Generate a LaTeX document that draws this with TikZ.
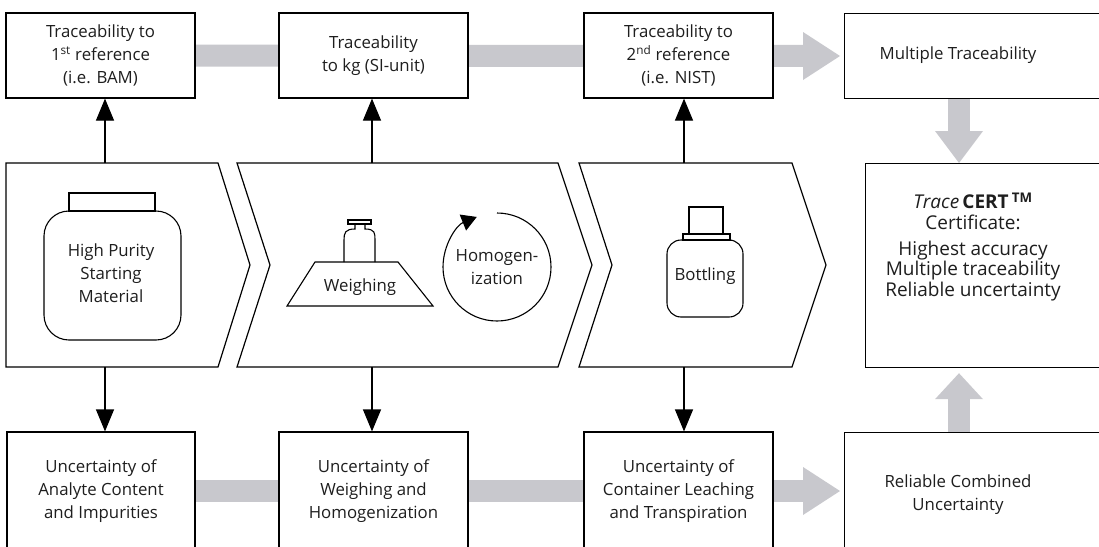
\documentclass[tikz,border=0pt]{standalone}
\usepackage{fontspec}
\setmainfont{Open Sans}
\usetikzlibrary{arrows.meta,calc,backgrounds}
\definecolor{gry}{RGB}{200,200,205}
\definecolor{txt}{RGB}{30,30,30}
\tikzset{
 box/.style={draw=black, line width=1.2pt, fill=white, inner sep=0pt, align=center, text=txt, font=\fontsize{16.8}{22.8}\selectfont},
 lbl/.style={inner sep=0pt, align=center, text=txt, font=\fontsize{16.8}{22.8}\selectfont},
 frame/.style={draw=black, line width=1.2pt, fill=white, inner sep=0pt, anchor=north west},
 blk/.style={line width=1.2pt, -{Triangle[length=22pt,width=18pt]}},
 gband/.style={draw=gry, line width=22pt},
 ghead/.style={fill=gry},
 chev/.style={draw=black, line width=1.2pt, fill=white, line join=miter},
 icon/.style={draw=black, line width=1.1pt},
}
\begin{document}
\begin{tikzpicture}[x=1pt,y=-1pt]
\useasboundingbox (0,0) rectangle (1099,546);
\clip (0,0) rectangle (1099,546);

% top row
\node[box, minimum width=189pt, minimum height=85pt] (b1) at (100.5,55.5) {Traceability to\\1\textsuperscript{st} reference\\(i.e. BAM)};
\node[box, minimum width=189pt, minimum height=85pt] (b2) at (373.5,55.5) {Traceability\\to kg (SI-unit)};
\node[box, minimum width=189pt, minimum height=85pt] (b3) at (678.5,55.5) {Traceability to\\2\textsuperscript{nd} reference\\(i.e. NIST)};
\node[frame, minimum width=300pt, minimum height=85pt] (b4) at (844,13) {};
\node[lbl] (b4t) at (958,55.5) {Multiple Traceability};

% certificate
\node[frame, minimum width=300pt, minimum height=204pt] (cert) at (865,163) {};
\node[lbl, font=\fontsize{19}{20.6}\selectfont] (certt) at (973,247) {\textit{Trace}\,\textbf{CERT\,\textsuperscript{TM}}\\Certificate:\\[5pt]Highest accuracy\\Multiple traceability\\Reliable uncertainty};

% bottom row
\node[box, minimum width=188pt, minimum height=118pt] (u1) at (101,491) {Uncertainty of\\Analyte Content\\and Impurities};
\node[box, minimum width=189pt, minimum height=118pt] (u2) at (373.5,491) {Uncertainty of\\Weighing and\\Homogenization};
\node[box, minimum width=189pt, minimum height=118pt] (u3) at (678.5,491) {Uncertainty of\\Container Leaching\\and Transpiration};
\node[frame, minimum width=300pt, minimum height=118pt] (u4) at (844,432) {};
\node[lbl] (u4t) at (958,495) {Reliable Combined\\Uncertainty};

% gray arrows (behind)
\coordinate (tT) at (840,56);
\coordinate (tB) at (840,491);
\coordinate (vx) at (959,0);
\begin{scope}[on background layer]
\fill[white] (0,0) rectangle (1099,546);
\draw[gband] (b1.center) -- ($(tT)+(-35,0)$);
\fill[ghead] ($(tT)+(-37,-24)$) -- (tT) -- ($(tT)+(-37,24)$) -- cycle;
\draw[gband] (u1.center) -- ($(tB)+(-35,0)$);
\fill[ghead] ($(tB)+(-37,-24)$) -- (tB) -- ($(tB)+(-37,24)$) -- cycle;
\draw[gband] (b4.south -| vx) -- ($(cert.north -| vx)+(0,-30)$);
\fill[ghead] ($(cert.north -| vx)+(-24,-32)$) -- (cert.north -| vx) -- ($(cert.north -| vx)+(24,-32)$) -- cycle;
\draw[gband] (u4.north -| vx) -- ($(cert.south -| vx)+(0,30)$);
\fill[ghead] ($(cert.south -| vx)+(-24,31)$) -- ($(cert.south -| vx)+(0,5)$) -- ($(cert.south -| vx)+(24,31)$) -- cycle;
\end{scope}

% chevrons
\draw[chev] (6,163) -- (218,163) -- (250,265) -- (218,367) -- (6,367) -- cycle;
\draw[chev] (237,163) -- (558,163) -- (592,265) -- (558,367) -- (237,367) -- (270,265) -- cycle;
\draw[chev] (579,163) -- (792,163) -- (826,265) -- (792,367) -- (579,367) -- (612,265) -- cycle;

% jar
\draw[icon] (69,193) rectangle (155,211);
\draw[icon, rounded corners=25pt] (44,211) rectangle (181,340);
\node[lbl] (jart) at (111,273) {High Purity\\Starting\\Material};

% weighing
\draw[icon, line join=miter] (287,306) -- (433,306) -- (398,262) -- (315,262) -- cycle;
\draw[icon] (348,220) rectangle (371,224);
\draw[icon] (355,224) -- (355,229) .. controls (345,229) and (344,233) .. (344,240) -- (344,262);
\draw[icon] (365,224) -- (365,229) .. controls (375,229) and (375,233) .. (375,240) -- (375,262);
\node[lbl] (weight) at (360,287) {Weighing};

% homogenization
\coordinate (hc) at (497,267);
\draw[icon, -{Triangle[length=15pt,width=17pt]}] ($(hc)+(0,-54)$) arc[start angle=-90, end angle=248, radius=54];
\node[lbl] (homt) at (hc) {Homogen-\\ization};

% bottle
\draw[icon] (689,207) rectangle (723,234);
\draw[icon] (683,234) rectangle (730,240);
\draw[icon, rounded corners=14pt] (667,240) rectangle (743,317);
\node[lbl] (bott) at (705,276) {Bottling};

% black arrows
\coordinate (c1n) at (105,163); \coordinate (c1s) at (105,367);
\coordinate (c2n) at (372,163); \coordinate (c2s) at (372,367);
\coordinate (c3n) at (684,163); \coordinate (c3s) at (684,367);
\draw[blk] (c1n) -- (c1n |- b1.south);
\draw[blk] (c2n) -- (c2n |- b2.south);
\draw[blk] (c3n) -- (c3n |- b3.south);
\draw[blk] (c1s) -- (c1s |- u1.north);
\draw[blk] (c2s) -- (c2s |- u2.north);
\draw[blk] (c3s) -- (c3s |- u3.north);
\end{tikzpicture}
\end{document}
